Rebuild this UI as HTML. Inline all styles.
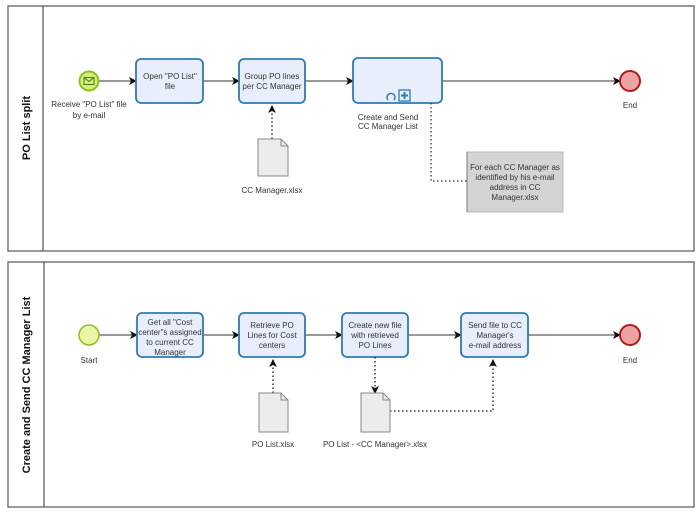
<!DOCTYPE html>
<html><head><meta charset="utf-8"><style>
body{margin:0;background:#fff;}
svg text{font-family:"Liberation Sans",sans-serif;fill:#333;}
</style></head><body>
<svg width="700" height="513" viewBox="0 0 700 513" xmlns="http://www.w3.org/2000/svg">
<defs>
<marker id="a" markerWidth="8" markerHeight="8" refX="7" refY="4" orient="auto" markerUnits="userSpaceOnUse"><path d="M0,0 L8,4 L0,8 L2,4z" fill="#111"/></marker>
</defs>
<g stroke="#555" stroke-width="1.2" fill="none">
<rect x="8" y="6" width="686" height="245"/><line x1="43" y1="6" x2="43" y2="251"/>
<rect x="8" y="262" width="686" height="245"/><line x1="44" y1="262" x2="44" y2="507"/>
</g>
<text transform="translate(30,128) rotate(-90)" text-anchor="middle" font-size="11" font-weight="bold" style="fill:#111">PO List split</text>
<text transform="translate(30,385) rotate(-90)" text-anchor="middle" font-size="11" font-weight="bold" style="fill:#111">Create and Send CC Manager List</text>

<!-- top pool -->
<g stroke="#333" stroke-width="1" marker-end="url(#a)">
<line x1="99" y1="81" x2="136" y2="81"/><line x1="203" y1="81" x2="239" y2="81"/>
<line x1="305" y1="81" x2="353" y2="81"/><line x1="442" y1="81" x2="620" y2="81"/>
</g>
<circle cx="89" cy="81" r="9.5" fill="#d4ef7a" stroke="#8cbf1f" stroke-width="2"/>
<rect x="84" y="77.5" width="10" height="7" fill="none" stroke="#4a7a10" stroke-width="1"/><path d="M84,77.5 L89,81.5 L94,77.5" fill="none" stroke="#4a7a10"/>
<circle cx="630" cy="81" r="10" fill="#eea3a3" stroke="#b01c1c" stroke-width="2"/>
<g fill="#e9eefc" stroke="#2f7bb0" stroke-width="1.8">
<rect x="136" y="59" width="67" height="44" rx="5"/>
<rect x="239" y="59" width="66" height="44" rx="5"/>
<rect x="353" y="58" width="89" height="45" rx="5"/>
</g>
<rect x="399" y="90" width="11" height="11" fill="#e9eefc" stroke="#2f7bb0" stroke-width="1.3"/>
<path d="M404.5,92 v7 M401,95.5 h7" stroke="#2f7bb0" stroke-width="2"/>
<path d="M388,100 a4,4 0 1 1 6,0" fill="none" stroke="#2f7bb0" stroke-width="1.5"/>
<g font-size="8" text-anchor="middle">
<text x="170" y="79">Open "PO List"</text><text x="170" y="89">file</text>
<text x="272" y="79">Group PO lines</text><text x="272" y="89">per CC Manager</text>
<text x="89" y="107">Receive "PO List" file</text><text x="89" y="118">by e-mail</text>
<text x="388" y="120">Create and Send</text><text x="388" y="129">CC Manager List</text>
<text x="630" y="108">End</text>
<text x="272" y="193">CC Manager.xlsx</text>
</g>
<line x1="272" y1="139" x2="272" y2="106" stroke="#111" stroke-dasharray="1.5,2.5" stroke-width="1.3" marker-end="url(#a)"/>
<path d="M258,139 h23 l7,7 v30 h-30z" fill="#ececec" stroke="#888"/>
<path d="M281,139 v7 h7" fill="none" stroke="#888"/>
<path d="M431,103 V181 H467" fill="none" stroke="#333" stroke-dasharray="1.5,2.5" stroke-width="1.3"/>
<rect x="467" y="152" width="96" height="60" fill="#d4d4d4" stroke="#bbb"/>
<line x1="467" y1="152" x2="467" y2="212" stroke="#777"/>
<g font-size="8" text-anchor="middle">
<text x="515" y="170">For each CC Manager as</text><text x="515" y="180">identified by his e-mail</text>
<text x="515" y="190">address in CC</text><text x="515" y="200">Manager.xlsx</text>
</g>

<!-- bottom pool -->
<g stroke="#333" stroke-width="1" marker-end="url(#a)">
<line x1="99" y1="335" x2="137" y2="335"/><line x1="203" y1="335" x2="239" y2="335"/>
<line x1="305" y1="335" x2="342" y2="335"/><line x1="408" y1="335" x2="461" y2="335"/>
<line x1="528" y1="335" x2="620" y2="335"/>
</g>
<circle cx="89" cy="335" r="10" fill="#e8f7a6" stroke="#8cbf1f" stroke-width="1.5"/>
<circle cx="630" cy="335" r="10" fill="#eea3a3" stroke="#b01c1c" stroke-width="2"/>
<g fill="#e9eefc" stroke="#2f7bb0" stroke-width="1.8">
<rect x="137" y="313" width="66" height="44" rx="5"/>
<rect x="239" y="313" width="66" height="44" rx="5"/>
<rect x="342" y="313" width="66" height="44" rx="5"/>
<rect x="461" y="313" width="67" height="44" rx="5"/>
</g>
<g font-size="8" text-anchor="middle">
<text x="170" y="325">Get all "Cost</text><text x="170" y="335">center"s assigned</text><text x="170" y="345">to current CC</text><text x="170" y="355">Manager</text>
<text x="272" y="328">Retrieve PO</text><text x="272" y="338">Lines for Cost</text><text x="272" y="348">centers</text>
<text x="375" y="328">Create new file</text><text x="375" y="338">with retrieved</text><text x="375" y="348">PO Lines</text>
<text x="495" y="328">Send file to CC</text><text x="495" y="338">Manager's</text><text x="495" y="348">e-mail address</text>
<text x="89" y="363">Start</text><text x="630" y="363">End</text>
<text x="273" y="447">PO List.xlsx</text>
<text x="375" y="447">PO List -  &lt;CC Manager&gt;.xlsx</text>
</g>
<g stroke="#111" stroke-dasharray="1.5,2.5" stroke-width="1.3" fill="none">
<line x1="273" y1="393" x2="273" y2="360" marker-end="url(#a)"/>
<line x1="375" y1="357" x2="375" y2="393" marker-end="url(#a)"/>
<path d="M390,411 H493 V360" marker-end="url(#a)"/>
</g>
<path d="M259,393 h22 l7,7 v32 h-29z" fill="#ececec" stroke="#888"/><path d="M281,393 v7 h7" fill="none" stroke="#888"/>
<path d="M361,393 h22 l7,7 v32 h-29z" fill="#ececec" stroke="#888"/><path d="M383,393 v7 h7" fill="none" stroke="#888"/>
</svg>
</body></html>
